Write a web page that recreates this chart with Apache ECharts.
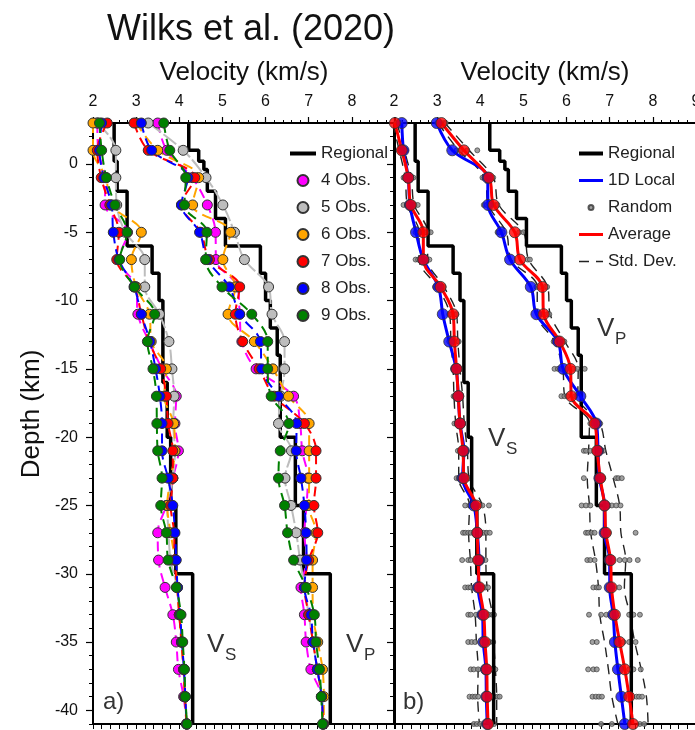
<!DOCTYPE html>
<html><head><meta charset="utf-8">
<script src="https://cdn.jsdelivr.net/npm/echarts@6/dist/echarts.min.js"></script>
<style>html,body{margin:0;padding:0;background:#fff}#c{width:695px;height:730px}</style>
</head><body><div id="c"></div>
<script>
// ---------- data ----------
const depths = [3,1,-1,-3,-5,-7,-9,-11,-13,-15,-17,-19,-21,-23,-25,-27,-29,-31,-33,-35,-37,-39,-41];
const xTicks = [2,3,4,5,6,7,8,9];
const yTicks = [0,-5,-10,-15,-20,-25,-30,-35,-40];

// Regional step models (layer top depth, velocity)
const regVsTop = [3, 0.2, -2, -6, -8, -10, -16, -20, -25, -30];
const regVsVel = [2.49, 2.56, 2.79, 3.37, 3.53, 3.62, 3.72, 3.80, 3.92, 4.31];
const regVpTop = [3, 1, 0.2, -0.4, -2, -4, -6, -8, -10, -12, -14, -20, -25, -30];
const regVpVel = [4.22, 4.45, 4.57, 4.65, 4.84, 5.07, 5.88, 6.00, 6.11, 6.27, 6.34, 6.69, 6.88, 7.50];
const regBottom = -41;

// Panel a: models by number of observations
const obs4Vs = [2.10,2.12,2.28,2.28,2.80,2.60,3.00,3.04,3.30,3.60,3.93,3.90,3.98,3.85,3.70,3.50,3.52,3.67,3.85,3.93,3.98,4.10,4.17];
const obs5Vs = [2.10,2.53,2.53,2.55,2.75,3.20,3.20,3.54,3.76,3.83,3.88,3.86,3.90,3.85,3.72,3.75,3.80,3.95,4.00,4.05,4.10,4.13,4.17];
const obs6Vs = [2.00,2.00,2.30,2.42,3.12,2.89,3.00,3.31,3.35,3.70,3.65,3.87,3.90,3.80,3.72,3.80,3.90,3.95,4.00,4.05,4.10,4.13,4.17];
const obs7Vs = [2.33,2.10,2.19,2.39,2.60,2.55,2.96,3.12,3.30,3.57,3.70,3.74,3.85,3.85,3.80,3.88,3.89,3.95,4.00,4.05,4.10,4.13,4.17];
const obs8Vs = [2.20,2.15,2.25,2.43,2.47,2.60,2.95,3.12,3.32,3.45,3.55,3.60,3.60,3.74,3.85,3.90,3.93,3.96,4.02,4.06,4.11,4.14,4.17];
const obs9Vs = [2.15,2.20,2.31,2.51,2.79,2.62,2.96,3.43,3.26,3.39,3.47,3.48,3.50,3.60,3.57,3.70,3.74,3.93,4.04,4.08,4.12,4.14,4.18];

const obs4Vp = [3.50,3.71,4.30,4.65,4.84,4.85,5.35,5.40,5.45,5.78,6.65,6.80,6.85,6.98,6.95,6.90,6.95,6.82,6.90,6.94,7.05,7.30,7.33];
const obs5Vp = [3.28,4.09,4.62,5.01,5.28,5.51,6.07,6.15,6.44,6.44,6.35,6.30,6.60,6.45,6.59,6.71,6.80,6.90,7.00,7.10,7.20,7.30,7.33];
const obs6Vp = [3.00,3.50,4.45,4.31,5.19,5.01,5.30,5.13,5.74,6.17,6.53,7.01,7.01,7.01,7.00,7.17,7.09,7.09,7.10,7.21,7.32,7.35,7.35];
const obs7Vp = [2.95,3.28,4.36,4.05,4.50,4.70,5.40,5.30,5.47,5.85,6.20,6.90,7.17,7.17,7.12,7.21,7.00,6.90,7.00,7.10,7.20,7.30,7.33];
const obs8Vp = [3.12,3.36,4.20,4.05,4.47,4.65,5.16,5.40,5.88,5.91,6.30,6.72,6.71,6.82,6.90,6.94,6.95,6.90,7.05,7.10,7.20,7.30,7.33];
const obs9Vp = [3.64,3.78,4.15,4.12,4.64,4.61,4.99,5.68,6.05,6.05,6.13,6.54,6.34,6.30,6.44,6.51,6.65,6.94,7.13,7.17,7.25,7.29,7.32];

// Panel b
const localVs = [2.18,2.22,2.33,2.37,2.51,2.68,3.03,3.13,3.28,3.44,3.49,3.53,3.62,3.59,3.85,3.93,3.97,3.95,4.05,4.07,4.13,4.14,4.16];
const avgVs   = [2.02,2.18,2.33,2.39,2.68,2.68,3.08,3.37,3.40,3.45,3.49,3.53,3.60,3.62,3.90,3.93,3.95,3.98,4.08,4.11,4.15,4.16,4.18];
const localVp = [2.99,3.35,4.17,4.18,4.49,4.69,5.17,5.30,5.80,5.92,6.32,6.69,6.73,6.76,6.88,6.88,7.00,7.00,7.08,7.12,7.19,7.27,7.35];
const avgVp   = [3.10,3.62,4.20,4.31,4.80,4.92,5.44,5.47,5.84,6.09,6.11,6.65,6.71,6.78,6.88,6.91,7.02,7.04,7.12,7.23,7.35,7.45,7.54];
const sdVs = [0.05,0.06,0.07,0.08,0.10,0.10,0.08,0.08,0.08,0.08,0.10,0.10,0.10,0.12,0.15,0.20,0.18,0.18,0.20,0.20,0.20,0.22,0.20];
const sdVp = [0.08,0.12,0.10,0.12,0.20,0.20,0.12,0.15,0.12,0.18,0.15,0.12,0.20,0.30,0.35,0.35,0.35,0.30,0.35,0.35,0.38,0.40,0.35];

const rndVs = [
 [1.98,2.05,2.10,2.15],[2.12,2.15,2.20,2.24,2.28],[2.22,2.28,2.30,2.36,2.40,2.45],[2.22,2.30,2.35,2.42,2.48,2.55],
 [2.50,2.58,2.62,2.70,2.75,2.80,2.85],[2.50,2.56,2.62,2.70,2.75,2.82],[2.95,3.00,3.05,3.10,3.15],[3.28,3.33,3.40,3.45],
 [3.28,3.33,3.38,3.45,3.50],[3.38,3.42,3.48,3.52],[3.38,3.42,3.48,3.55],[3.40,3.45,3.50,3.55,3.60],
 [3.48,3.55,3.62,3.68],[3.45,3.50,3.55,3.62,3.70,3.75],[3.65,3.75,3.82,3.95,4.05,4.20],[3.60,3.65,3.72,3.78,4.08,4.15,4.22],
 [3.58,3.72,3.78,3.95,4.05,4.12],[3.65,3.72,3.78,3.88,4.05,4.12,4.18],[3.72,3.78,3.90,4.00,4.20,4.28,4.32],[3.72,3.80,3.88,4.15,4.22,4.30],
 [3.78,3.85,3.95,4.10,4.22,4.28,4.35],[3.75,3.82,3.88,3.95,4.25,4.32,4.40,4.45],[3.85,3.92,4.00,4.25,4.32]
];
const rndVp = [
 [3.00,3.08,3.15,3.20],[3.45,3.55,3.70,3.93],[4.05,4.10,4.18,4.25,4.30],[4.08,4.15,4.22,4.35,4.40],
 [4.40,4.45,4.52,4.90,5.00],[5.10,5.15],[5.30,5.38,5.50,5.55],[5.35,5.42,5.55,5.60],
 [5.70,5.75,5.80,5.90,5.95],[5.72,5.80,5.88,6.15,6.25,6.42],[5.88,5.95,6.02,6.20],[6.55,6.60,6.72,6.78],
 [6.40,6.45,6.55,6.80,6.85],[6.40,6.75,6.85,7.15,7.20,7.28],[6.35,6.45,6.55,6.95,7.05,7.15,7.25],[6.45,6.50,6.58,6.65,6.98,7.60],
 [6.48,6.55,6.65,7.23,7.35,7.46,7.65],[6.62,6.70,6.75,7.05,7.22],[6.52,6.80,6.92,7.45,7.55,7.70],[6.60,6.70,7.32,7.45,7.60],
 [6.50,6.62,6.70,7.45,7.55,7.72],[6.60,6.68,6.75,6.82,7.62,7.68,7.75],[6.80,7.05,7.70,7.80]
];

// ---------- helpers ----------
const FONT = 'Liberation Sans';
const pts = vals => vals.map((v,i)=>[v, depths[i]]);
function steps(tops, vels, bottom){
  const out=[];
  for(let i=0;i<tops.length;i++){
    out.push([vels[i], tops[i]]);
    out.push([vels[i], i+1<tops.length?tops[i+1]:bottom]);
  }
  return out;
}
function scatterPts(rows){
  const out=[];
  rows.forEach((r,i)=>r.forEach(v=>out.push([v, depths[i]])));
  return out;
}

const obsDefs = [
  ['4 Obs.', '#ff00ff', obs4Vs, obs4Vp, [10,6]],
  ['5 Obs.', '#bdbdbd', obs5Vs, obs5Vp, [16,3]],
  ['6 Obs.', '#ffa500', obs6Vs, obs6Vp, [10,6]],
  ['7 Obs.', '#ff0000', obs7Vs, obs7Vp, [10,6]],
  ['8 Obs.', '#0000ff', obs8Vs, obs8Vp, [10,6]],
  ['9 Obs.', '#008000', obs9Vs, obs9Vp, [10,6]],
];

const series = [];
// Panel a regional
[[regVsTop,regVsVel],[regVpTop,regVpVel]].forEach(([t,v])=>{
  series.push({type:'line', name:'Regional', xAxisIndex:0, yAxisIndex:0, data:steps(t,v,regBottom),
    symbol:'none', lineStyle:{color:'#000', width:3.5}, itemStyle:{color:'#000'}, z:2});
});
obsDefs.forEach(([name,color,vs,vp,dash])=>{
  [vs,vp].forEach(arr=>{
    series.push({type:'line', name, xAxisIndex:0, yAxisIndex:0, data:pts(arr), smooth:0.35,
      symbol:'circle', symbolSize:10,
      lineStyle:{color, width:2, type:dash},
      itemStyle:{color, borderColor:'#333', borderWidth:1}, z:3});
  });
});
// Panel b
series.push({type:'scatter', name:'Random', xAxisIndex:2, yAxisIndex:2, data:scatterPts(rndVs).concat(scatterPts(rndVp)),
  symbolSize:5, itemStyle:{color:'#8a8a8a', borderColor:'#333', borderWidth:0.8}, z:2});
[[avgVs,sdVs],[avgVp,sdVp]].forEach(([a,s])=>{
  [-1,1].forEach(sign=>{
    series.push({type:'line', name:'Std. Dev.', xAxisIndex:2, yAxisIndex:2,
      data:a.map((v,i)=>[v+sign*s[i], depths[i]]), smooth:0.35, symbol:'none',
      lineStyle:{color:'#222', width:1.4, type:[10,7]}, itemStyle:{color:'#222'}, z:2});
  });
});
[[regVsTop,regVsVel],[regVpTop,regVpVel]].forEach(([t,v])=>{
  series.push({type:'line', name:'Regional', xAxisIndex:2, yAxisIndex:2, data:steps(t,v,regBottom),
    symbol:'none', lineStyle:{color:'#000', width:3.5}, itemStyle:{color:'#000'}, z:3});
});
[[localVs,'1D Local','#0000ff'],[localVp,'1D Local','#0000ff'],[avgVs,'Average','#ff0000'],[avgVp,'Average','#ff0000']].forEach(([arr,name,color])=>{
  series.push({type:'line', name, xAxisIndex:2, yAxisIndex:2, data:pts(arr), smooth:0.35, symbol:'none',
    lineStyle:{color, width:3}, itemStyle:{color}, z:4});
  series.push({type:'scatter', name:name+' nodes', xAxisIndex:2, yAxisIndex:2, data:pts(arr), symbolSize:11,
    itemStyle:{color, borderColor:'#333', borderWidth:1}, z:5});
});

// ---------- axes ----------
function topAxis(grid, showNine, name){
  return {type:'value', gridIndex:grid, position:'top', min:2, max:9, interval:1,
    name, nameLocation:'middle', nameGap:37, nameTextStyle:{fontFamily:FONT, fontSize:26, color:'#111'},
    axisLine:{show:true, onZero:false, lineStyle:{color:'#000', width:2}},
    axisTick:{show:true, length:6, lineStyle:{color:'#000', width:1.2}},
    minorTick:{show:true, splitNumber:5, length:3, lineStyle:{color:'#000', width:1}},
    axisLabel:{fontFamily:FONT, fontSize:16, color:'#111', margin:13,
      formatter:v=> (!showNine && v===9) ? '' : String(v)},
    splitLine:{show:false}, minorSplitLine:{show:false}};
}
function bottomAxis(grid){
  return {type:'value', gridIndex:grid, position:'bottom', min:2, max:9, interval:0.2,
    axisLine:{show:true, onZero:false, lineStyle:{color:'#000', width:2}},
    axisTick:{show:true, length:5, lineStyle:{color:'#000', width:1}},
    axisLabel:{show:false}, splitLine:{show:false}};
}
function yMajor(grid, labels){
  return {type:'value', gridIndex:grid, position:'left', min:-41, max:3,
    axisLine:{show:true, onZero:false, lineStyle:{color:'#000', width:2}},
    axisTick:{show:true, length:7, customValues:yTicks, lineStyle:{color:'#000', width:1.2}},
    axisLabel:{show:labels, customValues:yTicks, fontFamily:FONT, fontSize:16, color:'#111', margin:15},
    splitLine:{show:false}};
}
function yMinor(grid){
  return {type:'value', gridIndex:grid, position:'left', min:-41, max:3, interval:1,
    axisLine:{show:false, onZero:false}, axisTick:{show:true, length:4, lineStyle:{color:'#000', width:1}},
    axisLabel:{show:false}, splitLine:{show:false}};
}

const legendText = {fontFamily:FONT, fontSize:17, color:'#222', lineHeight:16};
const hideSym = {opacity:0};
const option = {
  animation:false,
  backgroundColor:'#fff',
  title:{text:'Wilks et al. (2020)', left:102, top:7,
    textStyle:{fontFamily:FONT, fontSize:36, fontWeight:'normal', color:'#111'}},
  grid:[
    {left:93, top:123, width:302, height:601, show:true, borderColor:'#000', borderWidth:2, containLabel:false, outerBoundsMode:'none'},
    {left:394, top:123, width:302, height:601, show:true, borderColor:'#000', borderWidth:2, containLabel:false, outerBoundsMode:'none'}
  ],
  xAxis:[topAxis(0,false,'Velocity (km/s)'), bottomAxis(0), topAxis(1,true,'Velocity (km/s)'), bottomAxis(1)],
  yAxis:[yMajor(0,true), yMinor(0), yMajor(1,false), yMinor(1)],
  legend:[
    {left:283, top:140, orient:'vertical', itemWidth:26, itemHeight:11, itemGap:10, selectedMode:false,
     textStyle:legendText,
     data:[{name:'Regional', itemStyle:hideSym, lineStyle:{width:4}}].concat(obsDefs.map(d=>({name:d[0], icon:'circle'})))},
    {left:572, top:140, orient:'vertical', itemWidth:24, itemHeight:5, itemGap:10, selectedMode:false,
     textStyle:legendText,
     data:[{name:'Regional', itemStyle:hideSym, lineStyle:{width:4}},
           {name:'1D Local', itemStyle:hideSym, lineStyle:{width:3}},
           {name:'Random', icon:'circle'},
           {name:'Average', itemStyle:hideSym, lineStyle:{width:3}},
           {name:'Std. Dev.', itemStyle:hideSym, lineStyle:{width:1.4}}]}
  ],
  graphic:[
    {type:'text', x:32, y:414, rotation:Math.PI/2,
     style:{text:'Depth (km)', font:'26px "Liberation Sans"', fill:'#111', align:'center', verticalAlign:'middle'}},
    {type:'text', left:103, top:690, style:{text:'a)', font:'24px "Liberation Sans"', fill:'#333'}},
    {type:'text', left:403, top:690, style:{text:'b)', font:'24px "Liberation Sans"', fill:'#333'}},
    {type:'text', left:207, top:632, style:{text:'V', font:'26px "Liberation Sans"', fill:'#333'}},
    {type:'text', left:225, top:647, style:{text:'S', font:'17px "Liberation Sans"', fill:'#333'}},
    {type:'text', left:346, top:632, style:{text:'V', font:'26px "Liberation Sans"', fill:'#333'}},
    {type:'text', left:364, top:647, style:{text:'P', font:'17px "Liberation Sans"', fill:'#333'}},
    {type:'text', left:597, top:316, style:{text:'V', font:'26px "Liberation Sans"', fill:'#333'}},
    {type:'text', left:615, top:331, style:{text:'P', font:'17px "Liberation Sans"', fill:'#333'}},
    {type:'text', left:488, top:426, style:{text:'V', font:'26px "Liberation Sans"', fill:'#333'}},
    {type:'text', left:506, top:441, style:{text:'S', font:'17px "Liberation Sans"', fill:'#333'}}
  ],
  series
};
const chart = echarts.init(document.getElementById('c'), null, {renderer:'canvas'});
chart.setOption(option);
</script>
</body></html>
